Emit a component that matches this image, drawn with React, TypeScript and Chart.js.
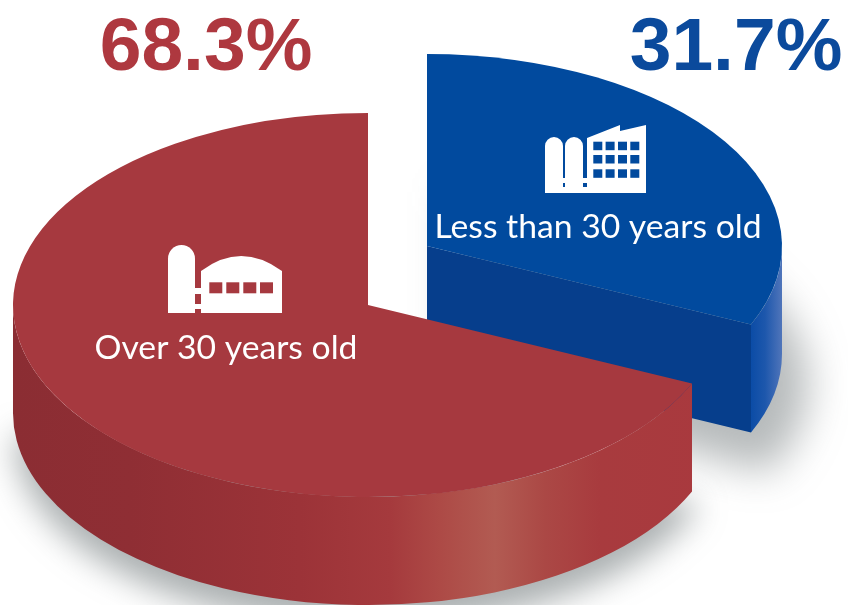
import { useEffect, useRef } from "react";
import { Chart, registerables } from "chart.js";

Chart.register(...registerables);

// Farm age split: share of operations per age band.
const categories = ["Less than 30 years old", "Over 30 years old"];
const shares = [31.7, 68.3];
const faceColors = ["#014a9e", "#a6393f"];
const percentColors = ["#0b4a9c", "#ae383f"];

// Projection of the flat pie onto a tilted disc.
const RX = 355;
const RY = 192;
const DEPTH = 108;
const sliceCentres = [
  { x: 427, y: 246 },
  { x: 368, y: 305 },
];
const percentAnchors = [
  { x: 736, y: 70 },
  { x: 206, y: 70 },
];
const labelAnchors = [
  { x: 598, y: 238 },
  { x: 226, y: 359 },
];

function tracePath(ctx: CanvasRenderingContext2D, pts: number[][]) {
  ctx.beginPath();
  pts.forEach(([x, y], i) => (i ? ctx.lineTo(x, y) : ctx.moveTo(x, y)));
  ctx.closePath();
}

function drawShadow(ctx: CanvasRenderingContext2D, c: { x: number; y: number }, a0: number, a1: number, dx: number, dy: number, blur: number, alpha: number) {
  ctx.save();
  ctx.filter = `blur(${blur}px)`;
  ctx.fillStyle = `rgba(80,90,92,${alpha})`;
  ctx.beginPath();
  ctx.moveTo(c.x + dx, c.y + DEPTH + dy);
  ctx.ellipse(c.x + dx, c.y + DEPTH + dy, RX, RY, 0, a0, a1);
  ctx.closePath();
  ctx.fill();
  ctx.restore();
}

function drawOuterWall(ctx: CanvasRenderingContext2D, c: { x: number; y: number }, a0: number, a1: number, fill: CanvasGradient) {
  ctx.beginPath();
  ctx.ellipse(c.x, c.y + DEPTH, RX, RY, 0, a0, a1);
  ctx.ellipse(c.x, c.y, RX, RY, 0, a1, a0, true);
  ctx.closePath();
  ctx.fillStyle = fill;
  ctx.fill();
}

function ramp(ctx: CanvasRenderingContext2D, x0: number, x1: number, stops: [number, string][]) {
  const g = ctx.createLinearGradient(x0, 0, x1, 0);
  stops.forEach(([x, col]) => g.addColorStop((x - x0) / (x1 - x0), col));
  return g;
}

function drawFace(ctx: CanvasRenderingContext2D, arc: any, c: { x: number; y: number }) {
  const R = arc.outerRadius;
  ctx.save();
  ctx.translate(c.x, c.y);
  ctx.scale(RX / R, RY / R);
  ctx.translate(-arc.x, -arc.y);
  arc.draw(ctx);
  ctx.restore();
}

function drawFactoryIcon(ctx: CanvasRenderingContext2D) {
  ctx.fillStyle = "#ffffff";
  // two silos
  ctx.beginPath();
  ctx.roundRect(545, 137, 18, 56, [9, 9, 0, 0]);
  ctx.roundRect(565, 137, 18, 56, [9, 9, 0, 0]);
  ctx.fill();
  ctx.fillRect(563, 178, 2, 5);
  ctx.fillRect(563, 187, 2, 6);
  ctx.fillRect(583, 178, 4, 5);
  ctx.fillRect(583, 187, 4, 6);
  // saw-tooth hall
  tracePath(ctx, [[587, 138], [620, 125], [620, 131], [646, 125], [646, 193], [587, 193]]);
  ctx.fill();
  ctx.fillStyle = faceColors[0];
  [141.7, 155, 169.3].forEach((y) => {
    [593.3, 605.6, 618, 630.3].forEach((x) => ctx.fillRect(x, y, 9, 8.5));
  });
}

function drawBarnIcon(ctx: CanvasRenderingContext2D) {
  ctx.fillStyle = "#ffffff";
  ctx.beginPath();
  ctx.roundRect(168, 245, 27, 68, [13.5, 13.5, 0, 0]);
  ctx.fill();
  ctx.fillRect(195, 288, 6, 6);
  ctx.fillRect(195, 304, 6, 5);
  // arched barn
  ctx.beginPath();
  ctx.moveTo(201, 313);
  ctx.lineTo(201, 271);
  ctx.quadraticCurveTo(241, 241, 282, 271);
  ctx.lineTo(282, 313);
  ctx.closePath();
  ctx.fill();
  ctx.fillStyle = faceColors[1];
  [209.3, 226.3, 243.3, 260].forEach((x) => ctx.fillRect(x, 282.3, 13, 11));
}

const tiltedPie = {
  id: "tiltedPie",
  beforeDatasetDraw(chart: any) {
    const ctx: CanvasRenderingContext2D = chart.ctx;
    const [blueArc, redArc] = chart.getDatasetMeta(0).data as any[];
    const [blueC, redC] = sliceCentres;

    // soft ground shadows
    drawShadow(ctx, blueC, blueArc.startAngle, blueArc.endAngle + 0.06, 26, 30, 20, 0.42);
    drawShadow(ctx, redC, redArc.startAngle - 0.05, Math.PI, 1, 22, 16, 0.48);

    // blue slice: cut wall, rim, top
    const bx = blueC.x + RX * Math.cos(blueArc.endAngle);
    const by = blueC.y + RY * Math.sin(blueArc.endAngle);
    tracePath(ctx, [
      [blueC.x, blueC.y],
      [bx, by],
      [bx, by + DEPTH],
      [blueC.x, blueC.y + DEPTH],
    ]);
    ctx.fillStyle = "#063e8c";
    ctx.fill();
    drawOuterWall(ctx, blueC, 0, blueArc.endAngle, ramp(ctx, bx, blueC.x + RX, [
      [bx, "#0b4ca6"],
      [bx + 14, "#1d57ac"],
      [blueC.x + RX, "#5075ba"],
    ]));
    drawFace(ctx, blueArc, blueC);

    // red slice: rim, top
    drawOuterWall(ctx, redC, redArc.startAngle, Math.PI, ramp(ctx, redC.x - RX, redC.x + RX, [
      [13, "#8b2d33"],
      [130, "#8f2e34"],
      [300, "#9c3338"],
      [390, "#a53a3d"],
      [440, "#ad4a46"],
      [495, "#b25b52"],
      [545, "#ab4845"],
      [600, "#a83b3e"],
      [723, "#a9393e"],
    ]));
    drawFace(ctx, redArc, redC);

    drawFactoryIcon(ctx);
    drawBarnIcon(ctx);

    // value and category captions
    ctx.textAlign = "center";
    ctx.textBaseline = "alphabetic";
    shares.forEach((v, i) => {
      ctx.font = "bold 75px 'Liberation Sans'";
      ctx.fillStyle = percentColors[i];
      ctx.fillText(`${v}%`, percentAnchors[i].x, percentAnchors[i].y);
      ctx.font = "33.7px Lato";
      ctx.fillStyle = "#ffffff";
      ctx.fillText(categories[i], labelAnchors[i].x, labelAnchors[i].y);
    });
    return false;
  },
};

export default function App() {
  const ref = useRef<HTMLCanvasElement>(null);
  useEffect(() => {
    document.body.style.margin = "0";
    const chart = new Chart(ref.current!, {
      type: "pie",
      data: {
        labels: categories,
        datasets: [{ data: shares, backgroundColor: faceColors, borderWidth: 0, hoverOffset: 0 }],
      },
      options: {
        responsive: false,
        animation: false,
        plugins: { legend: { display: false }, tooltip: { enabled: false } },
      },
      plugins: [tiltedPie],
    });
    return () => chart.destroy();
  }, []);
  return <canvas ref={ref} width={848} height={605} style={{ display: "block" }} />;
}
